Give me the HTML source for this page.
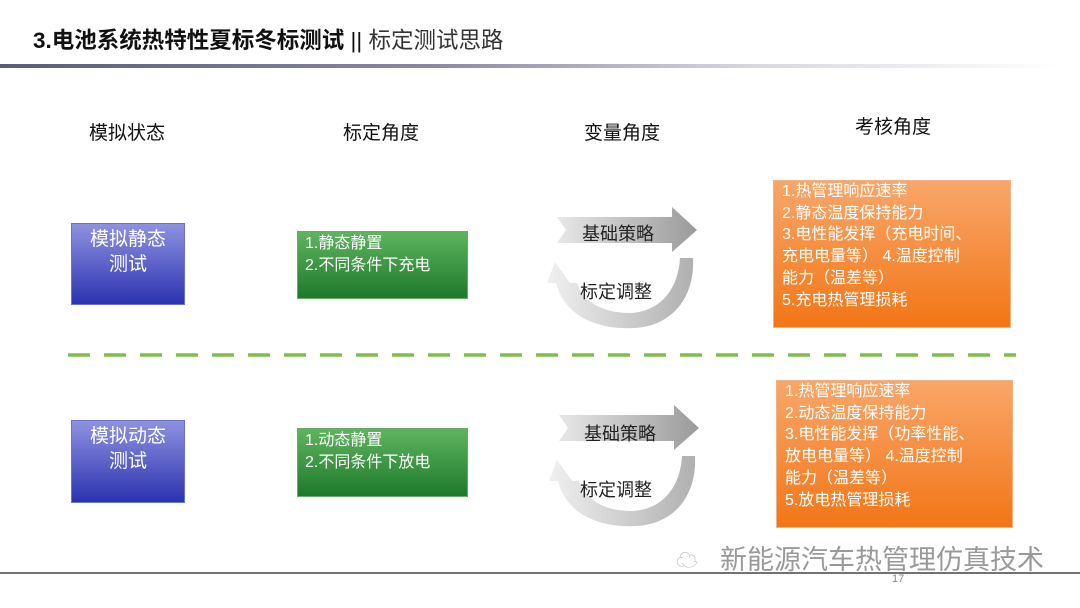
<!DOCTYPE html>
<html><head><meta charset="utf-8"><style>
body{margin:0;width:1080px;height:608px;background:#fff;position:relative;overflow:hidden;font-family:"Liberation Sans","Noto Sans CJK SC",sans-serif;}
.a{position:absolute}
.hd{position:absolute;font-size:19px;color:#111;transform:translateX(-50%);white-space:nowrap}
.blue{position:absolute;background:linear-gradient(#8f92e0,#2a33b0);border:1px solid #6a6fd0;color:#fff;font-size:19px;text-align:center;line-height:25px;box-sizing:border-box;padding-top:3px}
.green{position:absolute;background:linear-gradient(#5fb45f,#1d7a2a);border:1px solid #6aa86a;color:#fff;font-size:16px;line-height:22px;padding:1px 7px;box-sizing:border-box;white-space:nowrap}
.org{position:absolute;background:linear-gradient(#f9a66a,#f27616);border:1px solid #f0b080;color:#fff;font-size:16px;line-height:21.7px;padding:0 8px;box-sizing:border-box;white-space:nowrap}
.lbl{position:absolute;font-size:18px;color:#222;white-space:nowrap}
</style></head><body>
<div class="a" style="left:33px;top:23px;font-size:22.5px;color:#111;white-space:nowrap"><b>3.电池系统热特性夏标冬标测试</b> || <span style="color:#333">标定测试思路</span></div>
<div class="a" style="left:0;top:64px;width:1080px;height:4px;background:linear-gradient(90deg,#5d5c78,#8a89a0 40%,#d8d8e0 70%,#fff 98%)"></div>

<div class="hd" style="left:127px;top:118px">模拟状态</div>
<div class="hd" style="left:381px;top:118px">标定角度</div>
<div class="hd" style="left:622px;top:118px">变量角度</div>
<div class="hd" style="left:893px;top:112px">考核角度</div>

<div class="blue" style="left:71px;top:223px;width:114px;height:82px">模拟静态<br>测试</div>
<div class="blue" style="left:71px;top:420px;width:114px;height:83px">模拟动态<br>测试</div>

<div class="green" style="left:297px;top:231px;width:171px;height:68px">1.静态静置<br>2.不同条件下充电</div>
<div class="green" style="left:297px;top:428px;width:171px;height:69px">1.动态静置<br>2.不同条件下放电</div>

<div class="org" style="left:773px;top:180px;width:238px;height:148px">1.热管理响应速率<br>2.静态温度保持能力<br>3.电性能发挥（充电时间、<br>充电电量等） 4.温度控制<br>能力（温差等）<br>5.充电热管理损耗</div>
<div class="org" style="left:776px;top:380px;width:237px;height:148px">1.热管理响应速率<br>2.动态温度保持能力<br>3.电性能发挥（功率性能、<br>放电电量等） 4.温度控制<br>能力（温差等）<br>5.放电热管理损耗</div>

<svg class="a" style="left:0;top:0" width="1080" height="608">
<defs>
<linearGradient id="g1" x1="0" x2="1"><stop offset="0" stop-color="#e8e8e8"/><stop offset="1" stop-color="#9a9a9a"/></linearGradient>
<linearGradient id="g2" x1="1" x2="0"><stop offset="0" stop-color="#b0b0b0"/><stop offset="1" stop-color="#f0f0f0"/></linearGradient>
</defs>
<line x1="68" y1="355" x2="1016" y2="355" stroke="#7cc04a" stroke-width="3.5" stroke-dasharray="22,14"/>
<g id="arr">
<path d="M557,217 L672,217 L672,207 L697,230 L672,252 L672,243 L557,243 L566,230 Z" fill="url(#g1)"/>
<path d="M570,283 L555,262 L547,283 L556,283 C565,318 600,330 635,328 C670,326 695,300 693,258 L680,258 C678,292 658,312 630,313 C600,313 583,300 577,283 Z" fill="url(#g2)"/>
</g>
<use href="#arr" y="198" x="2"/>
<line x1="0" y1="573" x2="1080" y2="573" stroke="#444" stroke-width="1.5"/>
</svg>
<div class="lbl" style="left:582px;top:220px">基础策略</div>
<div class="lbl" style="left:580px;top:278px">标定调整</div>
<div class="lbl" style="left:584px;top:420px">基础策略</div>
<div class="lbl" style="left:580px;top:476px">标定调整</div>
<div class="a" style="left:720px;top:538px;font-size:27px;color:#999;white-space:nowrap">新能源汽车热管理仿真技术</div>
<div class="a" style="left:676px;top:543px;font-size:22px;color:#bbb">☁</div>
<div class="a" style="left:892px;top:573px;font-size:11px;color:#888">17</div>
</body></html>
